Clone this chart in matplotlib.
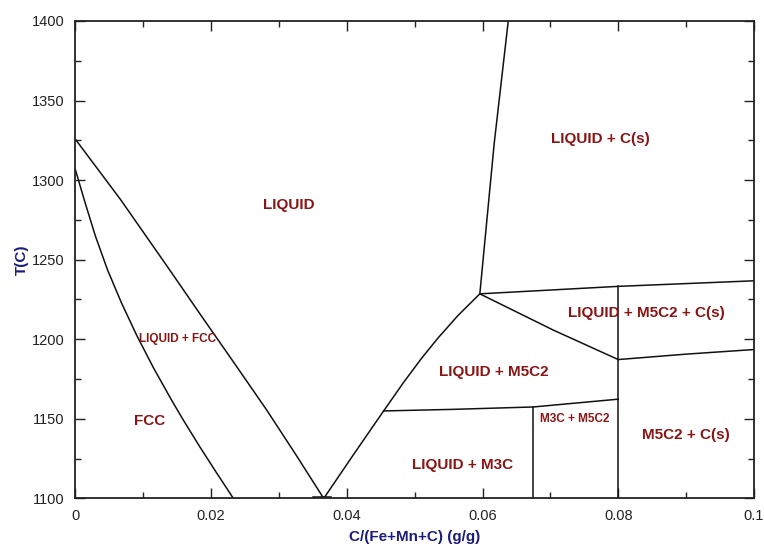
import matplotlib

matplotlib.use('Agg')

import matplotlib.pyplot as plt
from matplotlib.ticker import MultipleLocator

# Phase boundaries of the Fe-Mn-C isopleth, x = carbon fraction (g/g), y = T (C)
liquidus_fcc_x = [0.0, 0.00662, 0.01371, 0.01864, 0.02343, 0.02818, 0.03244, 0.03652]
liquidus_fcc_y = [1325.6, 1287.9, 1244.6, 1214.1, 1184.8, 1155.5, 1127.7, 1100.4]

solidus_fcc_x = [0.0, 0.00143, 0.00293, 0.00473, 0.00678, 0.00906, 0.01151,
                 0.01415, 0.01589, 0.01835, 0.02072, 0.02326]
solidus_fcc_y = [1306.3, 1285.6, 1264.9, 1243.5, 1222.8, 1202.1, 1181.9,
                 1161.8, 1149.2, 1132.2, 1116.5, 1100.0]

liquidus_m5c2_x = [0.03667, 0.04097, 0.04542, 0.04834, 0.05101, 0.05347, 0.05636, 0.05960]
liquidus_m5c2_y = [1100.4, 1127.4, 1154.9, 1172.7, 1188.0, 1200.9, 1214.8, 1228.5]

liquidus_graphite_x = [0.05960, 0.06172, 0.06379]
liquidus_graphite_y = [1228.5, 1323.1, 1400.0]

upper_graphite_x = [0.05960, 0.0800, 0.1000]
upper_graphite_y = [1228.5, 1233.2, 1236.7]

m5c2_graphite_x = [0.05960, 0.07044, 0.0800]
m5c2_graphite_y = [1228.5, 1205.7, 1187.2]

lower_graphite_x = [0.0800, 0.0900, 0.1000]
lower_graphite_y = [1187.2, 1190.6, 1193.5]

m3c_line_x = [0.04542, 0.0557, 0.06747, 0.0800]
m3c_line_y = [1154.9, 1155.9, 1157.4, 1162.3]

vertical_m3c_x = [0.06747, 0.06747]
vertical_m3c_y = [1157.4, 1100.0]

vertical_m5c2_x = [0.0800, 0.0800]
vertical_m5c2_y = [1233.2, 1100.0]

eutectic_x = [0.0350, 0.0376]
eutectic_y = [1100.8, 1100.8]

boundaries = [
    (liquidus_fcc_x, liquidus_fcc_y),
    (solidus_fcc_x, solidus_fcc_y),
    (liquidus_m5c2_x, liquidus_m5c2_y),
    (liquidus_graphite_x, liquidus_graphite_y),
    (upper_graphite_x, upper_graphite_y),
    (m5c2_graphite_x, m5c2_graphite_y),
    (lower_graphite_x, lower_graphite_y),
    (m3c_line_x, m3c_line_y),
    (vertical_m3c_x, vertical_m3c_y),
    (vertical_m5c2_x, vertical_m5c2_y),
    (eutectic_x, eutectic_y),
]

# Region labels: text, x, y, font size
region_names = ['LIQUID', 'LIQUID + C(s)', 'LIQUID + M5C2 + C(s)', 'LIQUID + FCC',
                'LIQUID + M5C2', 'FCC', 'M3C + M5C2', 'M5C2 + C(s)', 'LIQUID + M3C']
region_x = [0.0315, 0.0773, 0.0841, 0.0150, 0.0617, 0.0109, 0.0736, 0.0900, 0.0570]
region_y = [1284.3, 1325.8, 1216.4, 1200.0, 1179.2, 1148.4, 1149.7, 1139.6, 1120.8]
region_sizes = [11, 11, 11, 8.5, 11, 11, 8.5, 11, 11]

x_ticks = [0, 0.02, 0.04, 0.06, 0.08, 0.1]
x_tick_labels = ['0', '0.02', '0.04', '0.06', '0.08', '0.1']
y_ticks = [1100, 1150, 1200, 1250, 1300, 1350, 1400]

plt.rcParams['font.family'] = ['Liberation Sans', 'DejaVu Sans']

fig = plt.figure(figsize=(7.64, 5.45), dpi=100)
ax = fig.add_axes([0.0988, 0.0857, 0.888, 0.8758])

for xs, ys in boundaries:
    ax.plot(xs, ys, color='#111111', linewidth=1.1, solid_joinstyle='round')

for name, x, y, size in zip(region_names, region_x, region_y, region_sizes):
    ax.text(x, y, name, color='#8b1414', fontsize=size, fontweight='bold',
            ha='center', va='center')

ax.set_xlim(0, 0.1)
ax.set_ylim(1100, 1400)
ax.set_xticks(x_ticks)
ax.set_xticklabels(x_tick_labels)
ax.set_yticks(y_ticks)
ax.xaxis.set_minor_locator(MultipleLocator(0.01))
ax.yaxis.set_minor_locator(MultipleLocator(25))

ax.tick_params(which='both', direction='in', top=True, right=True,
               colors='#222222', labelsize=10.5)
ax.tick_params(which='major', length=7, width=1, pad=8)
ax.tick_params(which='minor', length=4, width=1)
for spine in ax.spines.values():
    spine.set_color('#222222')
    spine.set_linewidth(1.3)

ax.set_xlabel('C/(Fe+Mn+C) (g/g)', color='#1c1c7c', fontsize=11, fontweight='bold', labelpad=5)
ax.set_ylabel('T(C)', color='#1c1c7c', fontsize=11, fontweight='bold', labelpad=2)

fig.savefig('out.png', dpi=100, facecolor='white')
